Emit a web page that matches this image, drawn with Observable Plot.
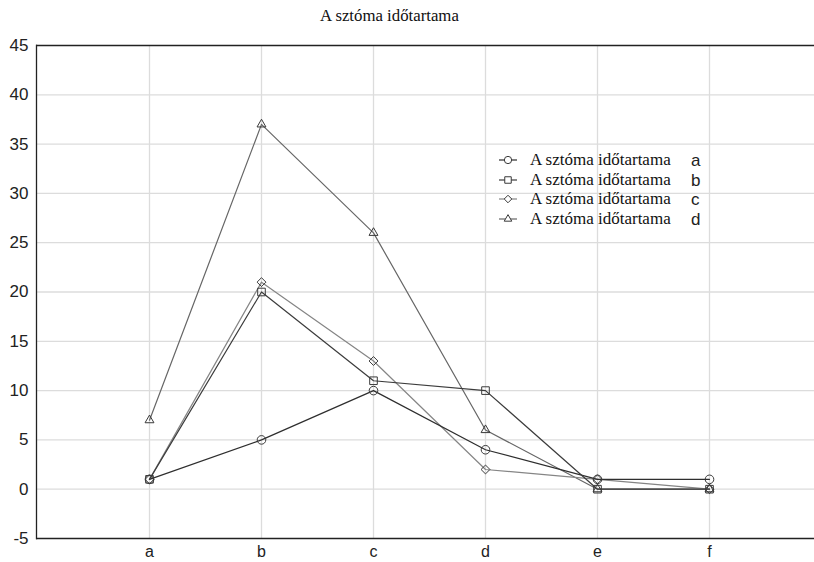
<!DOCTYPE html>
<html><head><meta charset="utf-8">
<script src="https://cdn.jsdelivr.net/npm/d3@7"></script>
<script src="https://cdn.jsdelivr.net/npm/@observablehq/plot@0.6"></script>
<style>
body{margin:0;background:#fff;}
#wrap{position:relative;width:814px;height:562px;overflow:hidden;}
#title{height:30px;position:relative;font-family:"Liberation Serif",serif;font-size:16.8px;color:#111;}
#title span{position:absolute;left:320px;top:6px;white-space:nowrap;}
#chart svg{display:block;}
.lrow{position:absolute;height:20px;white-space:nowrap;}
.lrow svg{position:absolute;left:0;top:0;}
.ltext{position:absolute;left:32px;top:0px;font-family:"Liberation Serif",serif;font-size:17px;color:#111;}
.lkey{position:absolute;left:193px;top:1px;font-family:"Liberation Sans",sans-serif;font-size:17px;color:#222;}
</style></head>
<body><div id="wrap"><div id="title"><span>A sztóma időtartama</span></div><div id="chart"></div><div id="legend"></div></div>
<script>
const categories = ["a", "b", "c", "d", "e", "f"];
const seriesNames = ["a", "b", "c", "d"];
const seriesLabel = "A sztóma időtartama";
const valuesA = [1, 5, 10, 4, 1, 1];
const valuesB = [1, 20, 11, 10, 0, 0];
const valuesC = [1, 21, 13, 2, 1, 0];
const valuesD = [7, 37, 26, 6, 0, 0];
const yTicks = [-5, 0, 5, 10, 15, 20, 25, 30, 35, 40, 45];
const symbols = ["circle", "square", "diamond2", "triangle"];
const symbolRadius = [4.3, 4.3, 4.0, 3.3];
const lineColors = ["#2e2e2e", "#3c3c3c", "#858585", "#666666"];

const seriesValues = [valuesA, valuesB, valuesC, valuesD];
const data = [];
seriesNames.forEach((s, i) => categories.forEach((c, j) => data.push({series: s, cat: c, value: seriesValues[i][j]})));
const drawOrder = ["d", "c", "a", "b"];
const ordered = drawOrder.flatMap(s => data.filter(d => d.series === s));

const chart = Plot.plot({
  width: 814, height: 532,
  marginTop: 15, marginBottom: 24, marginLeft: 36, marginRight: 0,
  style: {fontFamily: "Liberation Sans, sans-serif", fontSize: "17px", color: "#222", background: "white"},
  x: {type: "point", domain: categories, range: [36, 822], padding: 1},
  y: {domain: [-5, 45]},
  symbol: {domain: seriesNames, range: symbols},
  color: {domain: seriesNames, range: lineColors},
  marks: [
    Plot.gridX(categories, {stroke: "#dcdcdc", strokeOpacity: 1, strokeWidth: 1.3}),
    Plot.gridY(yTicks.filter(v => v > -5 && v < 45), {stroke: "#dcdcdc", strokeOpacity: 1, strokeWidth: 1.3}),
    Plot.axisX({ticks: categories, tickSize: 0, tickPadding: 7, label: null, fontSize: 16}),
    Plot.axisY({ticks: yTicks, tickSize: 0, tickPadding: 8, label: null, fontSize: 17, tickFormat: d => String(d)}),
    Plot.ruleY([-5, 45], {stroke: "#222", strokeWidth: 1.3}),
    Plot.frame({anchor: "left", stroke: "#222", strokeWidth: 1.3}),
    Plot.lineY(ordered, {x: "cat", y: "value", z: "series", stroke: "series", strokeWidth: 1.2}),
    ...drawOrder.map(s => {
      const i = seriesNames.indexOf(s);
      return Plot.dot(data.filter(d => d.series === s), {x: "cat", y: "value", symbol: "series", stroke: "#3a3a3a", fill: "none", strokeWidth: 1, r: symbolRadius[i]});
    })
  ]
});
document.getElementById("chart").appendChild(chart);

// legend
const legend = document.getElementById("legend");
const symMap = {circle: d3.symbolCircle, square: d3.symbolSquare, diamond2: d3.symbolDiamond2, triangle: d3.symbolTriangle};
seriesNames.forEach((s, i) => {
  const row = document.createElement("div");
  row.className = "lrow";
  row.style.left = "498px";
  row.style.top = (150 + i * 19.5) + "px";
  const svg = d3.create("svg").attr("width", 34).attr("height", 20);
  svg.append("line").attr("x1", 1).attr("x2", 19).attr("y1", 10).attr("y2", 10)
    .attr("stroke", lineColors[i]).attr("stroke-width", 1.2);
  const rr = symbolRadius[i] * 0.85;
  svg.append("path").attr("d", d3.symbol(symMap[symbols[i]], Math.PI * rr * rr)())
    .attr("transform", "translate(10,10)").attr("fill", "white").attr("stroke", "#3a3a3a");
  row.appendChild(svg.node());
  const t = document.createElement("span"); t.className = "ltext"; t.textContent = seriesLabel; row.appendChild(t);
  const k = document.createElement("span"); k.className = "lkey"; k.textContent = s; row.appendChild(k);
  legend.appendChild(row);
});
</script>
</body></html>
